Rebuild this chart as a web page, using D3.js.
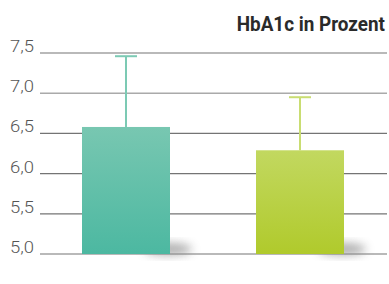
<!DOCTYPE html>
<html>
<head>
<meta charset="utf-8">
<script src="https://cdn.jsdelivr.net/npm/d3@7"></script>
<style>
  body { margin: 0; background: #fff; }
  svg text { font-family: "Roboto", "Liberation Sans", sans-serif; }
</style>
</head>
<body>
<div id="chart"></div>
<script>
// Data.
const groupNames = ['A', 'B'];
const means = [6.58, 6.29];
const upper = [7.46, 6.95];
const ticks = [5.0, 5.5, 6.0, 6.5, 7.0, 7.5];

const barTop = ['#78c7b1', '#c2d860'];
const barBottom = ['#4cb8a1', '#b0ca2c'];
const whisker = ['#7ccab4', '#c9dd72'];

const margin = { top: 53, right: 2, bottom: 30, left: 40 },
  width = 389 - margin.left - margin.right,
  height = 284 - margin.top - margin.bottom;

const svg = d3
  .select('#chart')
  .append('svg')
  .attr('width', 389)
  .attr('height', 284);

const defs = svg.append('defs');

groupNames.forEach((g, i) => {
  const grad = defs
    .append('linearGradient')
    .attr('id', 'grad' + i)
    .attr('x1', 0).attr('y1', 0)
    .attr('x2', 0).attr('y2', 1);
  grad.append('stop').attr('offset', '0%').attr('stop-color', barTop[i]);
  grad.append('stop').attr('offset', '100%').attr('stop-color', barBottom[i]);
});

defs
  .append('filter')
  .attr('id', 'blur')
  .attr('x', '-50%').attr('y', '-50%')
  .attr('width', '200%').attr('height', '200%')
  .append('feGaussianBlur')
  .attr('stdDeviation', 5);

const g = svg
  .append('g')
  .attr('transform', 'translate(' + margin.left + ',' + margin.top + ')');

const y = d3.scaleLinear().domain([5.0, 7.5]).range([201, 0]);

// bars are 88px wide, centred at 126 and 300 (page coords)
const x = d3.scalePoint().domain(groupNames).range([126 - margin.left, 300 - margin.left]);
const barW = 88;

// Grid lines
g.append('g')
  .selectAll('line')
  .data(ticks)
  .join('line')
  .attr('x1', 0)
  .attr('x2', width)
  .attr('y1', d => y(d))
  .attr('y2', d => y(d))
  .attr('stroke', d => (d === 7.0 ? '#aaaaaa' : '#747474'))
  .attr('stroke-width', d => (d === 7.0 ? 1.6 : 1.2));

// Tick labels
g.append('g')
  .selectAll('text')
  .data(ticks)
  .join('text')
  .attr('x', -6)
  .attr('y', d => y(d) - 1)
  .attr('text-anchor', 'end')
  .attr('font-size', 16)
  .attr('font-weight', 300)
  .attr('textLength', 24)
  .attr('lengthAdjust', 'spacingAndGlyphs')
  .attr('fill', '#555')
  .text(d => d3.format('.1f')(d).replace('.', ','));

// Shadows behind bars
g.append('g')
  .selectAll('ellipse')
  .data(groupNames)
  .join('ellipse')
  .attr('cx', d => x(d) + barW / 2 - 2)
  .attr('cy', y(5.0) - 5)
  .attr('rx', 24)
  .attr('ry', 6)
  .attr('fill', '#8a8a8a')
  .attr('opacity', 0.7)
  .attr('filter', 'url(#blur)');

// Error bars
const eb = g.append('g');
eb.selectAll('.stem')
  .data(groupNames)
  .join('line')
  .attr('class', 'stem')
  .attr('x1', d => x(d))
  .attr('x2', d => x(d))
  .attr('y1', (d, i) => y(means[i]))
  .attr('y2', (d, i) => y(upper[i]))
  .attr('stroke', (d, i) => whisker[i])
  .attr('stroke-width', 2);

eb.selectAll('.cap')
  .data(groupNames)
  .join('line')
  .attr('class', 'cap')
  .attr('x1', d => x(d) - 11)
  .attr('x2', d => x(d) + 11)
  .attr('y1', (d, i) => y(upper[i]))
  .attr('y2', (d, i) => y(upper[i]))
  .attr('stroke', (d, i) => whisker[i])
  .attr('stroke-width', 2);

// Bars
g.append('g')
  .selectAll('rect')
  .data(groupNames)
  .join('rect')
  .attr('x', d => x(d) - barW / 2)
  .attr('width', barW)
  .attr('y', (d, i) => y(means[i]))
  .attr('height', (d, i) => y(5.0) - y(means[i]))
  .attr('fill', (d, i) => 'url(#grad' + i + ')');

// Title (condensed by a horizontal scale)
svg
  .append('text')
  .attr('transform', 'translate(385,31) scale(0.9,1)')
  .attr('text-anchor', 'end')
  .attr('font-size', 21)
  .attr('font-weight', 'bold')
  .attr('fill', '#2a2a2a')
  .text('HbA1c in Prozent');
</script>
</body>
</html>
